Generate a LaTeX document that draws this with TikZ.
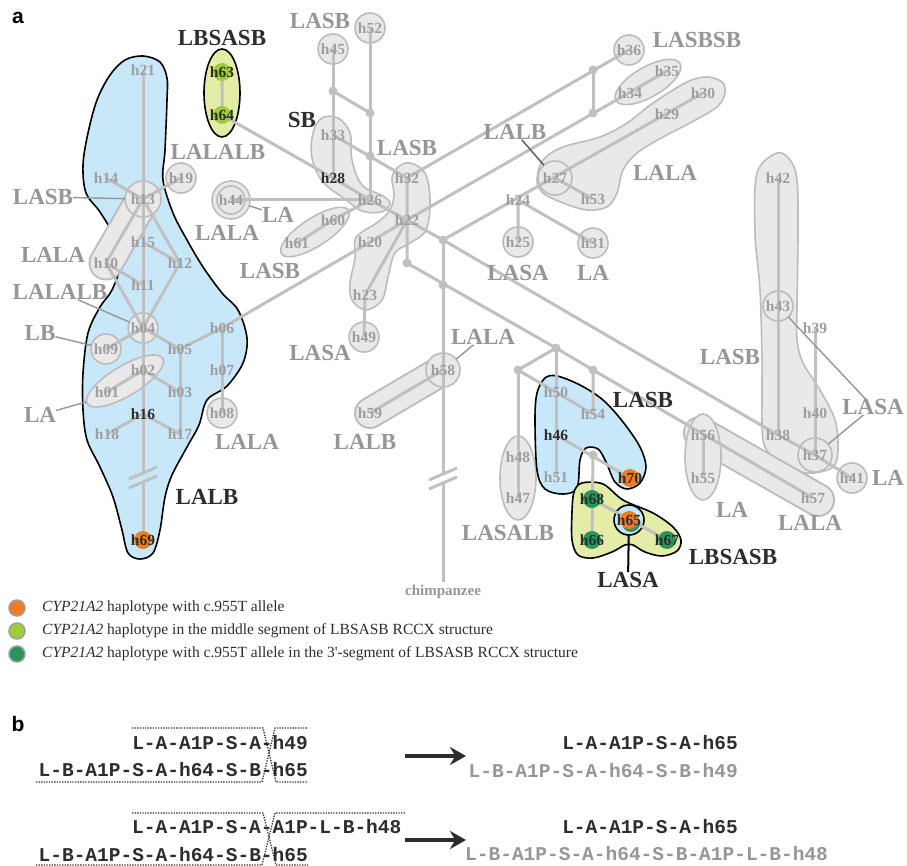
\documentclass[tikz,border=0pt]{standalone}
\usepackage{fontspec}
\setmainfont{Liberation Serif}
\setsansfont{Liberation Sans}
\setmonofont{Liberation Mono}
\usetikzlibrary{arrows.meta}
\pgfdeclarelayer{hulls}
\pgfdeclarelayer{links}
\pgfdeclarelayer{dots}
\pgfsetlayers{hulls,links,dots,main}
\definecolor{linkgray}{RGB}{192,192,192}
\definecolor{hullfill}{RGB}{233,233,233}
\definecolor{hullline}{RGB}{188,188,188}
\definecolor{labgray}{RGB}{150,150,150}
\definecolor{hapgray}{RGB}{158,158,158}
\definecolor{darktext}{RGB}{45,45,45}
\definecolor{bluefill}{RGB}{200,232,250}
\definecolor{yellowfill}{RGB}{228,236,168}
\definecolor{orangedot}{RGB}{240,124,32}
\definecolor{limedot}{RGB}{160,204,60}
\definecolor{greendot}{RGB}{40,150,90}
\newcommand{\hullring}[2]{\draw[hull] (#1) circle (#2pt);}
\newcommand{\hullcap}[4]{%
  \draw[draw=hullline, line width=#3pt, line cap=round] (#1) -- (#2);
  \draw[draw=hullfill, line width=#4pt, line cap=round] (#1) -- (#2);
}
\newcommand{\hapdot}[2]{\fill[#2] (#1) circle (9pt);}

\begin{document}
\begin{tikzpicture}[x=1pt,y=-1pt,>=Stealth,
    link/.style={draw=linkgray, line width=3pt, line join=round},
    lead/.style={draw=labgray, line width=1.4pt},
    hull/.style={fill=hullfill, draw=hullline, line width=1.6pt},
    region/.style={draw=black, line width=1.6pt},
    hp/.style={text=hapgray, font=\bfseries\fontsize{15.5}{16}\selectfont, inner sep=0pt},
    hd/.style={hp, text=darktext},
    lab/.style={text=labgray, font=\bfseries\fontsize{23}{25}\selectfont, inner sep=0pt},
    labd/.style={lab, text=darktext},
    legend/.style={anchor=west, inner sep=0pt, text=darktext, font=\fontsize{15.5}{17}\selectfont},
    seq/.style={inner sep=0pt, text=darktext, font=\ttfamily\bfseries\fontsize{19.5}{20}\selectfont},
    seqg/.style={seq, text=labgray},
    cross/.style={draw=darktext, line width=1.3pt, dash pattern=on 1.3pt off 1.3pt},
    arr/.style={-{Stealth[length=16pt,width=18pt]}, draw=darktext, line width=3.5pt}]
  \useasboundingbox (0,0) rectangle (907,866);

  \foreach \n/\x/\y in {
    21/143/70, 63/222/72, 64/222/115, 14/106/178, 13/143/199, 19/181/178,
    15/143/242, 12/180/263, 10/106/263, 11/143/285, 04/143/328, 09/106/349,
    05/180/349, 06/222/328, 02/143/370, 03/180/392, 07/222/370, 01/107/392,
    16/143/414, 18/107/434, 17/180/434, 08/222/413, 69/143/540,
    44/231/200, 45/333/49, 52/370/28, 33/333/135, 28/333/178, 26/370/200,
    60/333/220, 61/297/243, 32/407/178, 22/407/220, 20/370/242, 23/365/295,
    49/364/337, 24/518/200, 25/518/242, 27/555/178, 53/593/199, 31/593/243,
    29/667/114, 30/703/93, 34/630/93, 35/667/71, 36/629/50,
    42/778/178, 43/778/306, 38/778/435, 39/815/328, 40/815/413, 37/815/455,
    41/852/478, 56/703/435, 55/703/478, 57/813/498, 58/443/370, 59/370/413,
    50/556/392, 46/556/435, 51/556/477, 54/593/414, 48/518/457, 47/518/498,
    70/630/478, 68/592/499, 66/592/540, 65/629/520, 67/667/540}
    \coordinate (h\n) at (\x,\y);
  \foreach \n/\x/\y in {1/443/240, 2/443/285, 3/407/263, 4/556/348, 5/518/370,
    6/593/370, 7/593/455, 8/593/70, 9/593/113, 10/333/91, 11/370/113, 12/370/156}
    \coordinate (v\n) at (\x,\y);
  \coordinate (brkA) at (143,472);
  \coordinate (brkB) at (143,483);
  \coordinate (chA) at (443,474);
  \coordinate (chB) at (443,484);
  \coordinate (chEnd) at (443,582);
  \coordinate (laEll) at (86,402);

  % hulls and coloured regions
  \begin{pgfonlayer}{hulls}
    \draw[region, fill=bluefill] plot[smooth cycle, tension=0.55] coordinates {
      (143,56) (160,62) (167,78) (167,100) (165,150) (163,180) (173,213)
      (187,240) (203,267) (222,293) (238,310) (247,338) (243,363) (227,386)
      (207,400) (199,425) (187,447) (172,475) (165,497) (160,530) (153,553)
      (140,559) (128,553) (122,530) (113,497) (100,467) (87,440) (83,410)
      (83,373) (88,333) (100,307) (112,290) (120,265) (115,238) (100,212)
      (86,193) (83,165) (88,133) (97,100) (110,75) (125,60)};
    \draw[region, fill=yellowfill] (222,93) ellipse (18pt and 44pt);
    \hullcap{h13}{h10}{35}{31}
    \hullring{h13}{18}
    \hullring{h19}{15}
    \hullring{h04}{15}
    \hullring{h09}{15}
    \hullring{h08}{15}
    \draw[hull, rotate around={31:(125,381)}] (125,381) ellipse (44pt and 15pt);
    \draw[hull] (h44) circle (19pt);
    \draw[draw=hullline, line width=1.6pt] (h44) circle (14pt);
    \hullring{h45}{15}
    \hullring{h52}{15}
    \draw[hull] plot[smooth cycle, tension=0.6] coordinates {
      (322,118) (338,118) (350,133) (352,160) (362,185) (383,196) (390,204)
      (381,212) (362,211) (345,199) (323,182) (312,158) (313,133)};
    \draw[hull, rotate around={33:(315,232)}] (315,232) ellipse (40pt and 14pt);
    \draw[hull] plot[smooth cycle, tension=0.6] coordinates {
      (410,163) (425,173) (430,200) (426,230) (410,243) (395,253) (388,277)
      (382,300) (366,310) (352,300) (350,283) (355,258) (355,240) (362,232)
      (378,222) (390,210) (394,195) (392,178) (398,167)};
    \hullring{h49}{15}
    \hullcap{h58}{h59}{32}{28}
    \hullring{h58}{17}
    \draw[hull] (518,478) ellipse (18pt and 42pt);
    \hullring{h25}{15}
    \hullring{h31}{15}
    \draw[hull] plot[smooth cycle, tension=0.55] coordinates {
      (537,180) (543,160) (563,147) (600,137) (627,123) (653,103) (687,82)
      (707,77) (722,82) (725,93) (717,107) (690,123) (663,137) (637,153)
      (623,170) (617,193) (607,207) (587,210) (563,203) (543,193)};
    \hullring{h27}{17}
    \hullring{h36}{15}
    \draw[hull, rotate around={30:(648,82)}] (648,82) ellipse (37pt and 15pt);
    \draw[hull] plot[smooth cycle, tension=0.55] coordinates {
      (777,153) (790,160) (797,180) (798,233) (797,307) (797,340) (803,363)
      (820,390) (835,420) (838,450) (833,467) (813,473) (793,470) (773,457)
      (763,440) (762,390) (762,357) (760,290) (755,233) (757,173)};
    \hullring{h43}{15}
    \hullring{h37}{17}
    \hullring{h41}{15}
    \hullcap{700,433}{818,500}{34}{30}
    \draw[hull] (703,457) ellipse (18pt and 43pt);
    \draw[region, fill=bluefill] plot[smooth cycle, tension=0.55] coordinates {
      (557,376) (580,385) (603,400) (623,422) (640,447) (646,467) (640,483)
      (627,489) (615,482) (606,462) (598,449) (586,448) (580,460) (577,488)
      (563,494) (545,489) (537,470) (535,420) (537,393) (545,378)};
    \draw[region, fill=yellowfill] plot[smooth cycle, tension=0.55] coordinates {
      (582,483) (603,484) (623,500) (653,513) (673,527) (681,540) (677,551)
      (662,556) (645,552) (633,545) (625,545) (612,552) (593,558) (578,555)
      (572,540) (572,512) (574,492)};
    \draw[region, fill=bluefill] (h65) circle (15pt);
  \end{pgfonlayer}

  % network
  \begin{pgfonlayer}{links}
    \draw[link] (h21) -- (brkA);
    \draw[link] (brkB) -- (h69);
    \draw[link] (129,479) -- (157,467);
    \draw[link] (129,488) -- (157,476);
    \draw[link] (h14) -- (h13) -- (h19);
    \draw[link] (h13) -- (h10) -- (h04);
    \draw[link] (h10) -- (h11);
    \draw[link] (h13) -- (h12) -- (h04);
    \draw[link] (h15) -- (h12);
    \draw[link] (h09) -- (h04) -- (h05) -- (h06) -- (h20) -- (h22);
    \draw[link] (h05) -- (h17);
    \draw[link] (h01) -- (h02) -- (h03);
    \draw[link] (h18) -- (h16) -- (h17);
    \draw[link] (h06) -- (h08);
    \draw[link] (h63) -- (h64) -- (h28) -- (h26) -- (h22) -- (v1) -- (h38) -- (h37) -- (h41);
    \draw[link] (h44) -- (h26);
    \draw[link] (h61) -- (h60) -- (h26);
    \draw[link] (h45) -- (h28);
    \draw[link] (h52) -- (h26);
    \draw[link] (v10) -- (v11);
    \draw[link] (h33) -- (h32) -- (v3);
    \draw[link] (h22) -- (h23) -- (h49);
    \draw[link] (h32) -- (h36);
    \draw[link] (h22) -- (h35);
    \draw[link] (v8) -- (v9);
    \draw[link] (v1) -- (chA);
    \draw[link] (chB) -- (chEnd);
    \draw[link] (429,480) -- (457,468);
    \draw[link] (429,489) -- (457,477);
    \draw[link] (v1) -- (h30);
    \draw[link] (h25) -- (h24) -- (h31);
    \draw[link] (h27) -- (h53);
    \draw[link] (v3) -- (v4);
    \draw[link] (h58) -- (h59);
    \draw[link] (v5) -- (v4) -- (v6) -- (h57);
    \draw[link] (v4) -- (h51);
    \draw[link] (v5) -- (h47);
    \draw[link] (v5) -- (h54) -- (v6);
    \draw[link] (h55) -- (h56);
    \draw[link] (h46) -- (h70);
    \draw[link] (v7) -- (h66);
    \draw[link] (h68) -- (h67);
    \draw[link] (h42) -- (h38);
    \draw[link] (h39) -- (h37);
    \foreach \n in {1,...,12}
      \fill[linkgray] (v\n) circle (4.5pt);
  \end{pgfonlayer}

  \begin{pgfonlayer}{dots}
    \hapdot{h63}{limedot}
    \hapdot{h64}{limedot}
    \hapdot{h69}{orangedot}
    \hapdot{h70}{orangedot}
    \hapdot{h68}{greendot}
    \hapdot{h66}{greendot}
    \hapdot{h67}{greendot}
    \fill[greendot] (631,523) circle (9pt);
    \hapdot{h65}{orangedot}
  \end{pgfonlayer}

  \foreach \n in {21,14,13,19,15,12,10,11,04,09,05,06,02,03,07,01,18,17,08,
    44,45,52,33,26,60,61,32,22,20,23,49,24,25,27,53,31,29,30,34,35,36,
    42,43,38,39,40,37,41,56,55,57,58,59,50,51,54,48,47}
    \node[hp] (t\n) at (h\n) {h\n};
  \foreach \n in {63,64,16,69,28,46,70,68,66,65,67}
    \node[hd] (t\n) at (h\n) {h\n};

  \node[font=\sffamily\bfseries\fontsize{21}{21}\selectfont, inner sep=0pt] (pa) at (18,18) {a};
  \node[lab] (lbTop) at (320,21) {LASB};
  \node[labd] (lbMid) at (222,38) {LBSASB};
  \node[labd] (lbSB) at (302,120) {SB};
  \node[lab] (lbH32) at (407,148) {LASB};
  \node[lab] (lbH27) at (515,132) {LALB};
  \node[lab] (lbH36) at (697,40) {LASBSB};
  \node[lab] (lbH29) at (665,173) {LALA};
  \node[lab] (lbH19) at (218,152) {LALALB};
  \node[lab] (lbH13) at (43,197) {LASB};
  \node[lab] (lbH44) at (227,233) {LALA};
  \node[lab] (lbLA44) at (278,215) {LA};
  \node[lab] (lbH60) at (270,271) {LASB};
  \node[lab] (lbH10) at (53,255) {LALA};
  \node[lab] (lbH04) at (60,292) {LALALB};
  \node[lab] (lbH09) at (40,333) {LB};
  \node[lab] (lbH01) at (40,415) {LA};
  \node[lab] (lbH08) at (247,442) {LALA};
  \node[labd] (lbBlue) at (207,497) {LALB};
  \node[lab] (lbH49) at (320,353) {LASA};
  \node[lab] (lbH58) at (483,337) {LALA};
  \node[lab] (lbH59) at (365,442) {LALB};
  \node[lab] (lbH25) at (518,273) {LASA};
  \node[lab] (lbH31) at (593,273) {LA};
  \node[lab] (lbH48) at (508,533) {LASALB};
  \node[labd] (lbH50) at (643,400) {LASB};
  \node[labd] (lbH67) at (733,557) {LBSASB};
  \node[labd] (lbH65) at (628,580) {LASA};
  \node[lab] (lbH43) at (730,357) {LASB};
  \node[lab] (lbH37) at (873,407) {LASA};
  \node[lab] (lbH41) at (888,478) {LA};
  \node[lab] (lbH55) at (732,510) {LA};
  \node[lab] (lbH57) at (810,523) {LALA};
  \node[text=labgray, font=\bfseries\fontsize{15}{16}\selectfont, inner sep=0pt] (chimp) at (443,592) {chimpanzee};

  \draw[lead, shorten >=18pt] (lbH13) -- (h13);
  \draw[lead, shorten >=15pt] (lbH04) -- (h04);
  \draw[lead, shorten >=15pt] (lbH09) -- (h09);
  \draw[lead] (lbH01) -- (laEll);
  \draw[lead, shorten >=19pt] (lbLA44) -- (h44);
  \draw[lead, shorten >=17pt] (lbH58) -- (h58);
  \draw[lead, draw=darktext!80, shorten >=17pt] (lbH27) -- (h27);
  \draw[lead, shorten >=15pt] (lbH37) -- (h43);
  \draw[lead, shorten >=17pt] (lbH37) -- (h37);
  \draw[lead, draw=black, line width=2pt, shorten >=15pt] (lbH65) -- (h65);

  \foreach \y/\c in {608/orangedot, 631/limedot, 654/greendot}
    \draw[fill=\c, draw=gray!75, line width=1.5pt] (17,\y) circle (8pt);
  \node[legend] (leg1) at (42,608) {\textit{CYP21A2} haplotype with c.955T allele};
  \node[legend] (leg2) at (42,631) {\textit{CYP21A2} haplotype in the middle segment of LBSASB RCCX structure};
  \node[legend] (leg3) at (42,654) {\textit{CYP21A2} haplotype with c.955T allele in the 3\textquotesingle-segment of LBSASB RCCX structure};

  \node[font=\sffamily\bfseries\fontsize{21}{21}\selectfont, inner sep=0pt] (pb) at (18,724) {b};
  \node[seq, anchor=east] (r1) at (308,743) {L-A-A1P-S-A-h49};
  \node[seq, anchor=east] (r2) at (308,770) {L-B-A1P-S-A-h64-S-B-h65};
  \node[seq, anchor=west] (r3) at (132,827) {L-A-A1P-S-A-A1P-L-B-h48};
  \node[seq, anchor=east] (r4) at (308,855) {L-B-A1P-S-A-h64-S-B-h65};
  \node[seq, anchor=east] (s1) at (738,743) {L-A-A1P-S-A-h65};
  \node[seqg, anchor=east] (s2) at (738,771) {L-B-A1P-S-A-h64-S-B-h49};
  \node[seq, anchor=east] (s3) at (738,827) {L-A-A1P-S-A-h65};
  \node[seqg, anchor=west] (s4) at (465,854) {L-B-A1P-S-A-h64-S-B-A1P-L-B-h48};
  \draw[cross] (132,728) -- (263,728) -- (276,782) -- (308,782);
  \draw[cross] (36,782) -- (262,782) -- (275,728) -- (308,728);
  \draw[cross] (132,813) -- (263,813) -- (276,865) -- (308,865);
  \draw[cross] (36,865) -- (262,865) -- (275,813) -- (405,813);
  \coordinate (arA1) at (405,756);
  \coordinate (arA2) at (466,756);
  \coordinate (arB1) at (405,840);
  \coordinate (arB2) at (466,840);
  \draw[arr] (arA1) -- (arA2);
  \draw[arr] (arB1) -- (arB2);
\end{tikzpicture}
\end{document}
